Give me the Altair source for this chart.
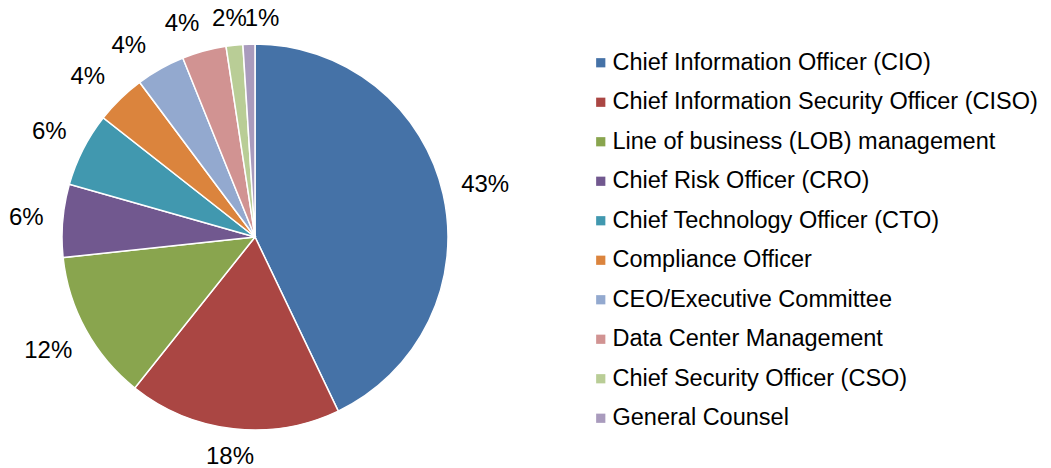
import altair as alt
import pandas as pd

roles = [
    "Chief Information Officer (CIO)",
    "Chief Information Security Officer (CISO)",
    "Line of business (LOB) management",
    "Chief Risk Officer (CRO)",
    "Chief Technology Officer (CTO)",
    "Compliance Officer",
    "CEO/Executive Committee",
    "Data Center Management",
    "Chief Security Officer (CSO)",
    "General Counsel",
]
shares = [42.9, 17.8, 12.6, 6.1, 6.2, 4.2, 4.1, 3.7, 1.4, 1.0]
labels = ["43%", "18%", "12%", "6%", "6%", "4%", "4%", "4%", "2%", "1%"]
colors = ["#4572A7", "#AA4643", "#89A54E", "#71588F", "#4198AF",
          "#DB843D", "#93A9CF", "#D19392", "#B9CD96", "#A99BBD"]

df = pd.DataFrame({"role": roles, "share": shares, "label": labels,
                   "idx": list(range(len(roles)))})

FONT = "Liberation Sans"
FS = 24
theta_scale = alt.Scale(domain=[0, 100])

base = alt.Chart(df).encode(
    x=alt.value(247),
    y=alt.value(229),
)

pie = base.mark_arc(outerRadius=193, stroke="white", strokeWidth=1.5).encode(
    theta=alt.Theta("share:Q", stack=True, scale=theta_scale),
    order=alt.Order("idx:Q", sort="ascending"),
    color=alt.Color(
        "role:N",
        scale=alt.Scale(domain=roles, range=colors),
        sort=roles,
        legend=alt.Legend(
            title=None,
            orient="none",
            legendX=581,
            legendY=43,
            symbolType="square",
            symbolSize=85,
            symbolStrokeWidth=0,
            labelFont=FONT,
            labelFontSize=23.5,
            labelColor="#000000",
            labelOffset=0,
            rowPadding=14.5,
            labelLimit=700,
        ),
    ),
)

lab = base.transform_window(
    cum="sum(share)", sort=[alt.SortField("idx", order="ascending")],
    frame=[None, 0],
).transform_calculate(
    mid="datum.cum - datum.share / 2",
    ang="(datum.cum - datum.share / 2) / 100 * 2 * PI",
    rad="210 + abs(sin(datum.ang)) * (length(datum.label) * 0.245 * 24 + 7) + abs(cos(datum.ang)) * 9",
).encode(
    theta=alt.Theta("mid:Q", stack=None, scale=theta_scale),
    radius=alt.Radius("rad:Q", scale=None),
    text="label:N",
)


def text_layer(cond, dx=0, dy=0):
    return lab.mark_text(font=FONT, fontSize=FS, color="#000000",
                         dx=dx, dy=dy).transform_filter(cond)


layers = [
    pie,
    text_layer("datum.idx < 5"),
    text_layer("datum.idx == 5", dx=-7, dy=4),
    text_layer("datum.idx == 6", dx=-15, dy=7),
    text_layer("datum.idx == 7", dx=-14, dy=3),
    text_layer("datum.idx == 8", dx=-2, dy=2),
    text_layer("datum.idx == 9", dx=14, dy=1),
]

chart = (
    alt.layer(*layers)
    .properties(width=1035, height=460, autosize=alt.AutoSizeParams(type="none"))
    .configure(padding=0)
    .configure_view(stroke=None)
)

chart.save("out.html", embed_options={"renderer": "svg", "actions": False})
